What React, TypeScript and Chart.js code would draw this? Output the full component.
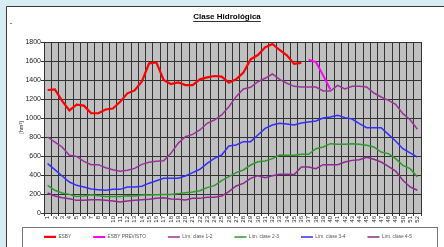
import React, { useEffect, useRef } from "react";
import { Chart, registerables } from "chart.js";

Chart.register(...registerables);

const weeks: string[] = Array.from({ length: 52 }, (_, i) => String(i + 1));

const esby: (number | null)[] = [
  1295, 1300, 1180, 1080, 1140, 1130, 1050, 1050, 1090, 1100,
  1170, 1260, 1290, 1385, 1575, 1585, 1400, 1358, 1375, 1347,
  1347, 1407, 1428, 1442, 1435, 1372, 1407, 1477, 1617, 1663,
  1744, 1779, 1716, 1660, 1570, 1580, null, null, null, null,
  null, null, null, null, null, null, null, null, null, null,
  null, null,
];

const esbyPrevisto: (number | null)[] = [
  null, null, null, null, null, null, null, null, null, null,
  null, null, null, null, null, null, null, null, null, null,
  null, null, null, null, null, null, null, null, null, null,
  null, null, null, null, null, null, 1614, 1589, 1449, 1300,
  null, null, null, null, null, null, null, null, null, null,
  null, null,
];

const lim12: number[] = [
  800, 747, 695, 607, 596, 544, 509, 509, 477, 456,
  439, 449, 470, 512, 534, 544, 551, 628, 733, 803,
  828, 874, 944, 979, 1032, 1119, 1225, 1305, 1323, 1382,
  1418, 1463, 1407, 1366, 1333, 1326, 1326, 1326, 1284, 1284,
  1344, 1305, 1333, 1333, 1326, 1263, 1221, 1186, 1144, 1046,
  982, 881,
];

const lim23: number[] = [
  291, 239, 211, 196, 175, 179, 193, 182, 175, 175,
  175, 182, 179, 189, 190, 193, 194, 196, 204, 214,
  221, 235, 267, 288, 340, 382, 425, 453, 505, 540,
  547, 572, 610, 608, 607, 618, 618, 677, 695, 730,
  723, 723, 730, 723, 712, 695, 642, 625, 572, 502,
  467, 379,
];

const lim34: number[] = [
  519, 456, 389, 326, 291, 274, 253, 246, 239, 249,
  249, 274, 274, 281, 314, 340, 365, 365, 365, 389,
  425, 460, 523, 575, 610, 705, 716, 751, 751, 821,
  891, 926, 944, 936, 926, 947, 958, 968, 1000, 1011,
  1028, 1004, 989, 940, 898, 898, 898, 828, 758, 677,
  632, 589,
];

const lim45: number[] = [
  211, 179, 161, 151, 133, 133, 140, 140, 133, 126,
  116, 126, 133, 140, 146, 154, 161, 147, 144, 137,
  154, 154, 165, 165, 179, 225, 284, 312, 365, 393,
  372, 393, 407, 407, 404, 484, 484, 467, 509, 509,
  509, 537, 554, 561, 586, 565, 537, 491, 442, 344,
  274, 239,
];

const yTicks: number[] = [0, 200, 400, 600, 800, 1000, 1200, 1400, 1600, 1800];

const FONT = "'Liberation Sans', Arial, sans-serif";

const framePlugin = {
  id: "frame",
  beforeUpdate(chart: any) {
    const lg = chart.legend;
    if (lg && !lg._patched) {
      const orig = lg.fit;
      lg.fit = function () {
        this.maxWidth = 2000;
        orig.call(this);
        this.height = 20;
      };
      lg._patched = true;
    }
  },
  afterLayout(chart: any) {
    const lg = chart.legend;
    if (lg) {
      lg.left = 22;
      lg.right = 2000;
      lg.top = 212.5;
      lg.bottom = 250;
      lg.width = 1978;
      lg.height = 37.5;
    }
    const tb = chart.titleBlock;
    if (tb) {
      tb.left = 10;
      tb.right = 444;
    }
  },
  beforeDraw(chart: any) {
    const { ctx, width, height, chartArea } = chart;
    ctx.save();
    ctx.fillStyle = "#d8ecf3";
    ctx.fillRect(0, 0, width, height);
    ctx.fillStyle = "#ffffff";
    ctx.fillRect(7, 7, width - 7, height - 7);
    ctx.strokeStyle = "#3a3a3a";
    ctx.lineWidth = 1;
    ctx.beginPath();
    ctx.moveTo(6.5, height);
    ctx.lineTo(6.5, 6.5);
    ctx.lineTo(width, 6.5);
    ctx.stroke();
    ctx.fillStyle = "#888";
    ctx.fillRect(10, 23, 2, 1);
    ctx.fillStyle = "#c0c0c0";
    ctx.fillRect(chartArea.left, chartArea.top, chartArea.right - chartArea.left, chartArea.bottom - chartArea.top);
    ctx.strokeStyle = "#777";
    ctx.strokeRect(22.5, 227.5, 415, 30);
    ctx.restore();
  },
  afterDraw(chart: any) {
    const tb = chart.titleBlock;
    if (!tb) return;
    const { ctx } = chart;
    ctx.save();
    ctx.font = "bold 8px " + FONT;
    const w = ctx.measureText("Clase Hidrológica").width;
    const cx = (tb.left + tb.right) / 2;
    ctx.strokeStyle = "#000";
    ctx.lineWidth = 0.8;
    ctx.beginPath();
    ctx.moveTo(cx - w / 2, 21.5);
    ctx.lineTo(cx + w / 2, 21.5);
    ctx.stroke();
    ctx.restore();
  },
};

export default function App() {
  const ref = useRef<HTMLCanvasElement | null>(null);

  useEffect(() => {
    if (!ref.current) return;
    const mk = (label: string, data: (number | null)[], color: string, bw: number) => ({
      label,
      data,
      borderColor: color,
      backgroundColor: color,
      borderWidth: bw,
      pointRadius: 0,
      tension: 0,
      spanGaps: false,
    });
    const chart = new Chart(ref.current, {
      type: "line",
      data: {
        labels: weeks,
        datasets: [
          mk("ESBY", esby, "#ff0000", 2.2),
          mk("ESBY PREVISTO", esbyPrevisto, "#ff00ff", 2),
          mk("Lím. clase 1-2", lim12, "#993399", 1.5),
          mk("Lím. clase 2-3", lim23, "#2e9a2e", 1.5),
          mk("Lím. clase 3-4", lim34, "#2f2fff", 1.5),
          mk("Lím. clase 4-5", lim45, "#8e2a92", 1.5),
        ],
      },
      options: {
        animation: false,
        responsive: false,
        maintainAspectRatio: false,
        layout: { padding: { left: 16, right: 23, top: 7, bottom: 0 } },
        plugins: {
          title: {
            display: true,
            text: "Clase Hidrológica",
            color: "#000",
            font: { family: FONT, size: 8, weight: "bold" },
            padding: { top: 5, bottom: 20.4 },
          },
          legend: {
            display: true,
            position: "bottom",
            align: "start",
            labels: {
              usePointStyle: true,
              pointStyle: "line",
              pointStyleWidth: 12,
              padding: 22,
              color: "#555",
              font: { family: FONT, size: 4.8 },
            },
          },
          tooltip: { enabled: false },
        },
        scales: {
          x: {
            offset: true,
            grid: {
              offset: true,
              color: "#333",
              lineWidth: 1,
              drawTicks: true,
              tickLength: 3,
              tickColor: "#333",
            },
            border: { color: "#333" },
            ticks: {
              autoSkip: false,
              minRotation: 90,
              maxRotation: 90,
              padding: 0,
              color: "#222",
              font: { family: FONT, size: 6 },
            },
            afterFit: (s: any) => {
              s.height = 14;
            },
          },
          y: {
            min: 0,
            max: 1800,
            afterBuildTicks: (s: any) => {
              s.ticks = yTicks.map((v) => ({ value: v }));
            },
            grid: {
              color: "#333",
              lineWidth: 1,
              drawTicks: true,
              tickLength: 3,
              tickColor: "#333",
            },
            border: { color: "#333" },
            ticks: {
              padding: 0,
              color: "#222",
              font: { family: FONT, size: 7 },
              callback: (v: any) => String(v),
            },
            title: {
              display: true,
              text: "[hm³]",
              color: "#222",
              font: { family: FONT, size: 5.5 },
              padding: { top: 2.5, bottom: 0 },
            },
            afterFit: (s: any) => {
              s.width = 28;
            },
          },
        },
      },
      plugins: [framePlugin],
    });
    return () => chart.destroy();
  }, []);

  return (
    <div style={{ position: "fixed", left: 0, top: 0, width: 444, height: 247 }}>
      <canvas ref={ref} width={444} height={247} style={{ display: "block", width: 444, height: 247 }} />
    </div>
  );
}
